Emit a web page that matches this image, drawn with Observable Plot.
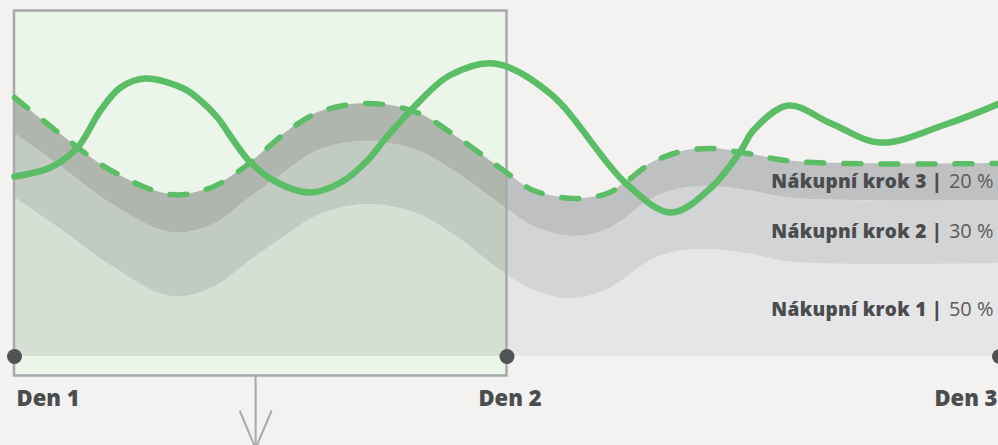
<!DOCTYPE html>
<html><head><meta charset="utf-8">
<script src="https://cdn.jsdelivr.net/npm/d3@7"></script>
<script src="https://cdn.jsdelivr.net/npm/@observablehq/plot@0.6"></script>
<style>
html,body{margin:0;padding:0;background:#f3f2f0;}
</style></head><body><div id="chart"></div>
<script>
// Hours since the start of "Den 1"
const stackHours = [0, 2.2, 4.7, 7.6, 9.6, 11.5, 13.1, 14.8, 17.2, 19.6, 21.6, 23.7, 25.3, 27.3, 29.0, 31.0, 32.3, 33.9, 35.7, 38.0, 48];
const krok1 = [159, 128, 91, 60, 68, 96, 119, 141, 152, 143, 119, 86, 66, 58, 68, 96, 105, 107, 103, 94, 93];
const krok2 = [64, 63, 62, 64, 63, 63, 64, 65, 63, 63, 64, 66, 64, 62, 60, 61, 62, 63, 63, 64, 63];
const krok3 = [36, 32, 33, 38, 38, 35, 39, 38, 38, 38, 36, 36, 36, 38, 36, 36, 37, 38, 37, 37, 37];

const lineHours = [0, 1.75, 3.07, 4.19, 5.17, 6.38, 8.24, 9.06, 9.89, 10.67, 11.5, 12.8, 14.4, 15.9, 17.2, 18.0, 19.4, 21.2, 23.4, 26.1, 29.8, 32.0, 33.9, 35.4, 36.0, 37.7, 39.8, 42.2, 45.5, 48];
const lineValues = [180, 189, 209, 246, 269, 278, 268, 256, 239, 216, 194, 174, 164, 174, 196, 216, 248, 281, 293, 263, 173, 144, 168, 206, 226, 251, 233, 214, 233, 253];

const stepKeys = ["1", "2", "3"];
const stepNames = ["Nákupní krok 1", "Nákupní krok 2", "Nákupní krok 3"];
const stepShares = ["50 %", "30 %", "20 %"];

const dayTicks = [0, 24, 48];
const dayLabels = ["Den 1", "Den 2", "Den 3"];
const highlight = [{from: 0, to: 24}];
const arrowAt = [11.75];

// ---- derived tables ----
const series = [krok1, krok2, krok3];
const table = stepKeys.flatMap((k, j) => stackHours.map((h, i) => ({h, v: series[j][i], krok: k})));
const totals = stackHours.map((h, i) => ({h, v: krok1[i] + krok2[i] + krok3[i]}));
const lineData = lineHours.map((h, i) => ({h, v: lineValues[i]}));
const lastRows = table.filter(d => d.h === stackHours[stackHours.length - 1]);

// ---- styles ----
const W = 998, H = 445;
const grayFill = {"1": "#e6e6e8", "2": "#d3d4d6", "3": "#bfc0c2"};
const tintFill = {"1": "#d5dfd4", "2": "#c2cbc2", "3": "#b0b6ae"};
const green = "#5bbd66";
const frameGray = "#a8a9ab";
const textDark = "#4b4c4e";
const curve = "catmull-rom";
const dayAnchors = ["start", "middle", "end"];
const dayDx = [2, 3, -2];
const vHead = {draw(ctx) { ctx.moveTo(-16, -38); ctx.lineTo(0, 0); ctx.lineTo(16, -38); }};

const chart = Plot.plot({
  width: W, height: H,
  marginTop: 10.5, marginBottom: 69.5, marginLeft: 14, marginRight: 0,
  x: {domain: [0, 48], range: [14, 999], axis: null},
  y: {domain: [0, 350], range: [356, 6], axis: null},
  color: {type: "identity"},
  style: {background: "#f3f2f0", fontFamily: "'Open Sans', sans-serif", overflow: "hidden"},
  marks: [
    Plot.areaY(table, {x: "h", y: "v", z: "krok", fill: d => grayFill[d.krok], curve}),
    Plot.rect(highlight, {x1: "from", x2: "to", fill: "#ecf5ea", ariaDescription: "highlight"}),
    Plot.areaY(table, {x: "h", y: "v", z: "krok", fill: d => tintFill[d.krok], curve, ariaDescription: "tinted"}),
    Plot.rect(highlight, {x1: "from", x2: "to", fill: "none", stroke: frameGray, strokeWidth: 2.5}),
    Plot.ruleX(arrowAt, {x: d => d, y1: -20, y2: -92, stroke: frameGray, strokeWidth: 2}),
    Plot.dot(arrowAt, {x: d => d, y: -92, symbol: vHead, fill: "none", stroke: frameGray, strokeWidth: 2, r: 5}),
    Plot.dot(dayTicks, {x: d => d, y: d => 0, r: 7.5, fill: "#505254"}),
    Plot.line(totals, {x: "h", y: "v", curve, stroke: green, strokeWidth: 5.5, strokeDasharray: "17,20", strokeLinecap: "round"}),
    Plot.line(lineData, {x: "h", y: "v", curve, stroke: green, strokeWidth: 6.5, strokeLinecap: "round"}),
    Plot.text(lastRows, Plot.stackY({x: "h", y: "v", z: "krok",
      text: d => `${stepNames[+d.krok - 1]} |${stepShares[+d.krok - 1]}`,
      textAnchor: "end", dx: -6, fontSize: 19, fill: textDark, ariaDescription: "step-label"})),
    ...dayTicks.map((t, i) => Plot.text([t], {x: d => d, text: [dayLabels[i]], frameAnchor: "bottom", dy: 30,
      textAnchor: dayAnchors[i], dx: dayDx[i], fontSize: 22, fontWeight: 800, fill: textDark}))
  ]
});

const svg = d3.select(chart);
const hl = svg.select('g[aria-description="highlight"] rect');
if (!hl.empty()) {
  svg.insert("defs", ":first-child").append("clipPath").attr("id", "hlclip")
    .append("rect").attr("x", hl.attr("x")).attr("y", 0).attr("width", hl.attr("width")).attr("height", H);
  svg.selectAll('g[aria-description="tinted"]').attr("clip-path", "url(#hlclip)");
}

svg.selectAll('g[aria-description="step-label"] text').each(function() {
  const t = d3.select(this);
  const [name, share] = t.text().split("|");
  t.text(null);
  t.append("tspan").attr("font-weight", 800).attr("letter-spacing", 0.3).text(name + "|");
  t.append("tspan").attr("font-weight", 400).attr("fill", "#5a5b5d").attr("font-size", 20).attr("dx", 7).text(share.trim());
});

document.getElementById("chart").appendChild(chart);
</script></body></html>
